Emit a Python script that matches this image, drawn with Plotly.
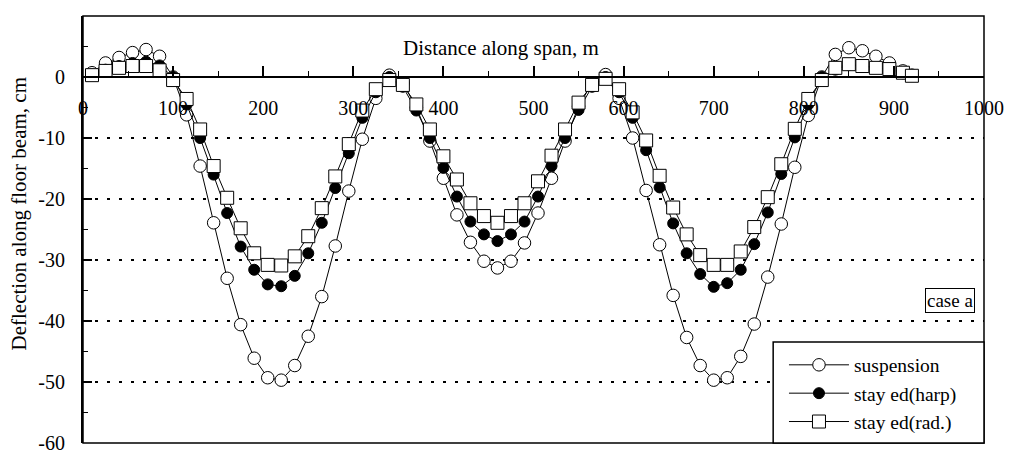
import plotly.graph_objects as go

# ---- data ----
distance_m = [10, 25, 40, 55, 70, 85,
              100, 115, 130, 145, 160, 175, 190, 205, 220, 235, 250, 265, 280, 295, 310, 325, 340,
              355, 370, 385, 400, 415, 430, 445, 460, 475, 490, 505, 520, 535, 550, 565, 580,
              595, 610, 625, 640, 655, 670, 685, 700, 715, 730, 745, 760, 775, 790, 805, 820,
              835, 850, 865, 880, 895, 910, 920]

suspension = [0.7, 2.3, 3.2, 4.0, 4.5, 3.4,
              0.0, -6.2, -14.6, -23.9, -33.0, -40.6, -46.1, -49.3, -49.7, -47.3, -42.5, -36.0, -27.7, -18.7, -10.2, -3.5, 0.3,
              -1.0, -5.0, -10.5, -16.6, -22.6, -27.1, -30.2, -31.3, -30.2, -27.2, -22.3, -16.6, -10.5, -4.8, -1.0, 0.4,
              -3.5, -10.0, -18.6, -27.5, -35.8, -42.7, -47.3, -49.7, -49.3, -45.8, -40.5, -32.8, -24.1, -14.8, -6.3, 0.0,
              3.7, 4.8, 4.3, 3.4, 2.3, 1.0, 0.3]

stayed_harp = [0.4, 1.2, 1.8, 2.3, 2.5, 1.9,
               0.0, -4.5, -10.0, -16.0, -22.3, -27.8, -31.6, -34.0, -34.3, -32.6, -28.9, -23.9, -18.2, -12.5, -6.7, -2.5, 0.0,
               -1.6, -5.5, -10.0, -14.9, -19.6, -23.7, -25.8, -26.9, -25.8, -23.7, -19.6, -14.6, -10.0, -5.4, -1.6, 0.0,
               -2.5, -6.7, -12.0, -18.1, -24.0, -28.9, -32.3, -34.4, -33.8, -31.6, -27.4, -22.2, -15.9, -9.9, -4.5, 0.0,
               1.2, 2.0, 1.8, 1.5, 1.2, 0.6, 0.2]

stayed_rad = [0.3, 1.0, 1.5, 1.8, 1.8, 1.1,
              -0.5, -3.6, -8.6, -14.6, -19.8, -24.8, -28.9, -30.8, -30.9, -29.4, -26.1, -21.5, -16.3, -11.0, -5.5, -2.0, -0.5,
              -1.3, -4.5, -8.6, -13.0, -16.8, -20.7, -22.8, -23.9, -22.8, -20.7, -17.1, -12.9, -8.6, -4.2, -1.3, -0.3,
              -2.0, -5.8, -10.4, -16.2, -21.4, -25.8, -29.2, -30.8, -30.8, -28.6, -24.6, -19.7, -14.3, -8.5, -3.6, -0.5,
              1.5, 2.1, 1.8, 1.5, 1.3, 0.7, 0.2]

series_names = ["suspension", "stay ed(harp)", "stay ed(rad.)"]

x_tick_vals = [0, 100, 200, 300, 400, 500, 600, 700, 800, 900, 1000]
x_tick_text = ["0", "100", "200", "300", "400", "500", "600", "700", "800", "900", "1000"]
y_tick_vals = [10, 0, -10, -20, -30, -40, -50, -60]
y_tick_text = ["10", "0", "-10", "-20", "-30", "-40", "-50", "-60"]

FONT = "Liberation Serif"

fig = go.Figure()

fig.add_trace(go.Scatter(
    x=distance_m, y=suspension, name=series_names[0], mode="lines+markers",
    line=dict(color="black", width=1),
    marker=dict(symbol="circle", size=12.5, color="white", line=dict(color="black", width=1)),
))
fig.add_trace(go.Scatter(
    x=distance_m, y=stayed_harp, name=series_names[1], mode="lines+markers",
    line=dict(color="black", width=1),
    marker=dict(symbol="circle", size=11, color="black", line=dict(color="black", width=1)),
))
fig.add_trace(go.Scatter(
    x=distance_m, y=stayed_rad, name=series_names[2], mode="lines+markers",
    line=dict(color="black", width=1),
    marker=dict(symbol="square", size=13, color="white", line=dict(color="black", width=1)),
))

# page body adds an 8px offset, so the figure is 8px smaller and margins shifted
fig.update_layout(
    width=1006, height=446,
    margin=dict(l=75, r=30, t=8, b=11, autoexpand=False),
    paper_bgcolor="white", plot_bgcolor="white",
    font=dict(family=FONT, size=20, color="black"),
    showlegend=True,
    legend=dict(
        x=0.778, y=0.228, xanchor="left", yanchor="top",
        bgcolor="rgba(0,0,0,0)", borderwidth=0,
        font=dict(family=FONT, size=19.5, color="black"),
        itemwidth=60, tracegroupgap=0,
    ),
    xaxis=dict(
        range=[0, 1000], anchor="free", position=60 / 70, automargin=False,
        showline=True, linecolor="black", linewidth=2,
        tickmode="array", tickvals=x_tick_vals, ticktext=x_tick_text,
        ticks="inside", ticklen=10, tickwidth=1.5, tickcolor="black",
        minor=dict(dtick=50, ticks="inside", ticklen=5, tickwidth=1, tickcolor="black", showgrid=False),
        ticklabelstandoff=13,
        tickfont=dict(family=FONT, size=20, color="black"),
        showgrid=False, zeroline=False,
    ),
    yaxis=dict(
        range=[-60, 10], automargin=False,
        showline=True, linecolor="black", linewidth=2,
        tickmode="array", tickvals=y_tick_vals, ticktext=y_tick_text,
        ticks="inside", ticklen=9, tickwidth=1.5, tickcolor="black",
        minor=dict(dtick=5, ticks="inside", ticklen=5, tickwidth=1, tickcolor="black", showgrid=False),
        ticklabelstandoff=12,
        tickfont=dict(family=FONT, size=20, color="black"),
        showgrid=True, gridcolor="black", gridwidth=1.5, griddash="3px,9px",
        zeroline=False,
    ),
    shapes=[
        dict(type="rect", xref="paper", yref="paper", x0=0, x1=1, y0=0, y1=1,
             line=dict(color="black", width=1.5), fillcolor="rgba(0,0,0,0)", layer="above"),
        dict(type="rect", xref="paper", yref="paper", x0=0.766, x1=1, y0=0.0, y1=0.2365,
             line=dict(color="black", width=1.5), fillcolor="white", layer="above"),
    ],
    annotations=[
        dict(text="Distance along span, m", xref="paper", yref="paper",
             x=0.464, y=(443 - 48) / 427, xanchor="center", yanchor="middle",
             showarrow=False, font=dict(family=FONT, size=21, color="black")),
        dict(text="Deflection along floor beam, cm", xref="paper", yref="paper",
             x=(19 - 83) / 901, y=(443 - 214.5) / 427, xanchor="center", yanchor="middle",
             textangle=-90, showarrow=False, font=dict(family=FONT, size=21, color="black")),
        dict(text="case a", xref="paper", yref="paper",
             x=(975 - 83) / 901, y=(443 - 300) / 427, xanchor="right", yanchor="middle",
             showarrow=False, font=dict(family=FONT, size=19, color="black"),
             bordercolor="black", borderwidth=1, borderpad=1, bgcolor="white"),
    ],
)

fig.write_html("out.html")
